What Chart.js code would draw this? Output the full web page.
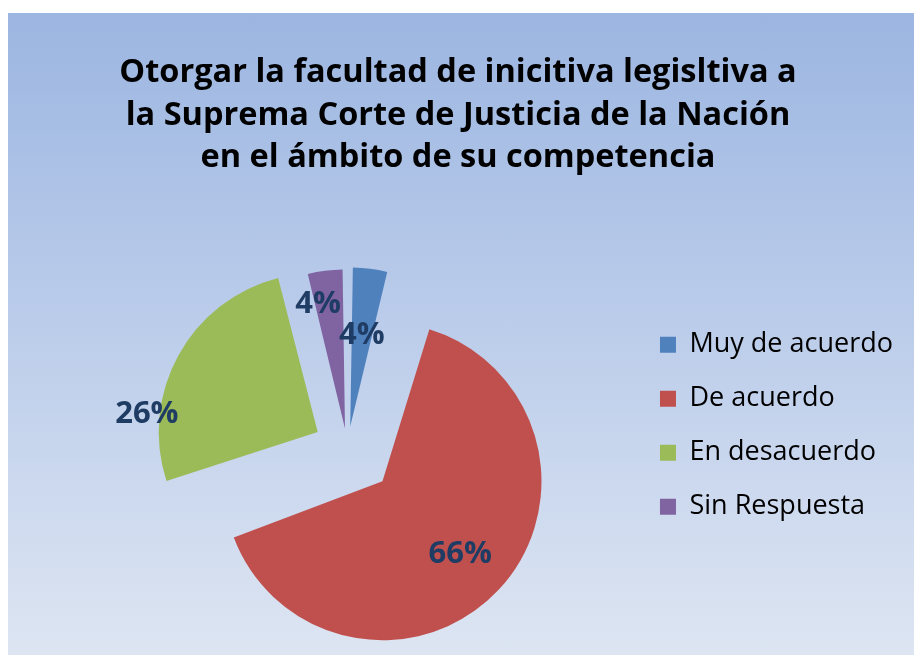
<!DOCTYPE html>
<html>
<head>
<meta charset="utf-8">
<script src="https://cdn.jsdelivr.net/npm/chart.js@4.4.1/dist/chart.umd.min.js"></script>
<style>
  html, body { margin: 0; padding: 0; background: #ffffff; }
  #frame {
    position: absolute;
    left: 8px;
    top: 13px;
    width: 906px;
    height: 642px;
    background: linear-gradient(to bottom, #9cb6e1 0%, #b9cbea 45%, #dde5f2 100%);
  }
</style>
</head>
<body>
<div id="frame"><canvas id="pie"></canvas></div>
<script>
const categories = ['Muy de acuerdo', 'De acuerdo', 'En desacuerdo', 'Sin Respuesta'];
const percentages = [4, 66, 26, 4];
const sliceColors = ['#4f81bd', '#c0504d', '#9bbb59', '#8064a2'];
const titleLines = [
    'Otorgar la facultad de inicitiva legisltiva a',
    'la Suprema Corte de Justicia de la Nación',
    'en el ámbito de su competencia'
];

const pieRadius = 159;
// how far each slice is pulled out, in px (Chart.js moves arcs by offset / 4)
const pullOut = [22, 48, 34, 20];
// label placement: fraction of radius, angle shift in degrees
const labelSpots = [[0.58, 0], [0.67, 0], [1.08, -23], [0.8, -5]];

// Chart.js also grows an exploded arc's radius by its offset; undo that
const keepRadius = {
    id: 'keepRadius',
    beforeDatasetsDraw(chart) {
        chart.getDatasetMeta(0).data.forEach((arc) => {
            const off = (arc.options.offset || 0) / 4;
            const fix = 1 - Math.sin(Math.min(Math.PI, arc.circumference || 0));
            arc.outerRadius = pieRadius - off * fix;
        });
    }
};

// the side padding only places the pie and legend; centre the title on the whole canvas
const wideTitle = {
    id: 'wideTitle',
    afterLayout(chart) {
        const t = chart.titleBlock;
        if (t) {
            t.left = 0;
            t.right = chart.width - 6;
            t.width = t.right - t.left;
        }
    }
};

const sliceLabels = {
    id: 'sliceLabels',
    afterDatasetsDraw(chart) {
        const ctx = chart.ctx;
        const values = chart.data.datasets[0].data;
        ctx.save();
        ctx.font = 'bold 31px "Open Sans"';
        ctx.fillStyle = '#1f3c64';
        ctx.textAlign = 'center';
        ctx.textBaseline = 'middle';
        chart.getDatasetMeta(0).data.forEach((arc, i) => {
            const mid = (arc.startAngle + arc.endAngle) / 2;
            const off = (arc.options.offset || 0) / 4;
            const cx = arc.x + Math.cos(mid) * off;
            const cy = arc.y + Math.sin(mid) * off;
            const a = mid + labelSpots[i][1] * Math.PI / 180;
            const r = pieRadius * labelSpots[i][0];
            ctx.fillText(values[i] + '%', cx + Math.cos(a) * r, cy + Math.sin(a) * r);
        });
        ctx.restore();
    }
};

const ctx = document.getElementById('pie').getContext('2d');
const pie = new Chart(ctx, {
    type: 'pie',
    data: {
        labels: categories,
        datasets: [{
            data: percentages,
            backgroundColor: sliceColors,
            borderWidth: 0,
            offset: pullOut.map((p) => p * 4)
        }]
    },
    options: {
        responsive: true,
        maintainAspectRatio: false,
        animation: false,
        radius: pieRadius,
        layout: {
            padding: { left: 54, right: 11, top: 0, bottom: 0 }
        },
        plugins: {
            title: {
                display: true,
                text: titleLines,
                color: '#000000',
                font: { family: 'Open Sans', size: 32.5, weight: 'bold', lineHeight: 1.3 },
                padding: { top: 39, bottom: 63 }
            },
            legend: {
                position: 'right',
                align: 'start',
                fullSize: false,
                title: {
                    display: true,
                    text: ' ',
                    font: { size: 12 },
                    padding: { top: 0, bottom: 48 }
                },
                labels: {
                    boxWidth: 16,
                    boxHeight: 16,
                    padding: 27,
                    color: '#000000',
                    font: { family: 'Open Sans', size: 27 }
                }
            },
            tooltip: { enabled: false }
        }
    },
    plugins: [keepRadius, wideTitle, sliceLabels]
});
</script>
</body>
</html>
